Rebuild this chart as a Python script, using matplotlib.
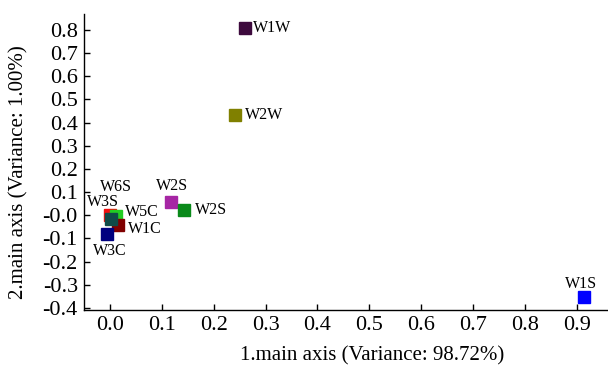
import matplotlib.pyplot as plt

plt.rcParams["font.family"] = ["Liberation Serif", "DejaVu Serif"]

# sample scores on the first two main axes
names = ["W1W", "W2W", "W2S", "W2S", "W1S", "W3S", "W5C", "W1C", "W6S", "W3C"]
axis1 = [0.261, 0.242, 0.117, 0.142, 0.914, 0.000, 0.011, 0.016, 0.002, -0.006]
axis2 = [0.808, 0.431, 0.059, 0.022, -0.351, 0.002, -0.002, -0.041, -0.015, -0.081]
colors = ["#3d0a3d", "#808000", "#a626a4", "#0a8a1a", "#0000ff",
          "#f01010", "#22cc22", "#800000", "#0f4a48", "#00007f"]
# label offsets in pixels and alignment
offsets = [(8, 0), (9, 0), (1, 16), (11, 0), (-3, 13),
           (-7, 13), (9, 4), (10, -4), (5, 32), (3, -17)]
aligns = ["left", "left", "center", "left", "center",
          "center", "left", "left", "center", "center"]

x_ticks = [0.0, 0.1, 0.2, 0.3, 0.4, 0.5, 0.6, 0.7, 0.8, 0.9]
x_tick_labels = ["0.0", "0.1", "0.2", "0.3", "0.4", "0.5", "0.6", "0.7", "0.8", "0.9"]
y_ticks = [0.8, 0.7, 0.6, 0.5, 0.4, 0.3, 0.2, 0.1, 0.0, -0.1, -0.2, -0.3, -0.4]
y_tick_labels = ["0.8", "0.7", "0.6", "0.5", "0.4", "0.3", "0.2", "0.1",
                 "-0.0", "-0.1", "-0.2", "-0.3", "-0.4"]

fig = plt.figure(figsize=(6.08, 3.71), dpi=100)
ax = fig.add_axes([84 / 608, 1 - 309.5 / 371, 1 - 84 / 608, (309.5 - 14) / 371])

for x, y, c, name, off, ha in zip(axis1, axis2, colors, names, offsets, aligns):
    ax.plot(x, y, marker="s", markersize=8, color=c, linestyle="none")
    ax.annotate(name, (x, y), xytext=off, textcoords="offset pixels",
                ha=ha, va="center", fontsize=11.5)

ax.set_xlim(-0.050, 0.96)
ax.set_ylim(-0.407, 0.869)
ax.set_xticks(x_ticks)
ax.set_xticklabels(x_tick_labels)
ax.set_yticks(y_ticks)
ax.set_yticklabels(y_tick_labels)
ax.tick_params(direction="in", length=4, width=1, labelsize=16, pad=4.5)

for pos in ["right", "top"]:
    ax.spines[pos].set_visible(False)
for pos in ["left", "bottom"]:
    ax.spines[pos].set_linewidth(1)

ax.set_xlabel("1.main axis (Variance: 98.72%)", fontsize=15)
ax.set_ylabel("2.main axis (Variance: 1.00%)", fontsize=15)
ax.xaxis.set_label_coords(0.55, -0.125)
ax.yaxis.set_label_coords(-0.105, 0.465)

fig.savefig("out.png", dpi=100)
